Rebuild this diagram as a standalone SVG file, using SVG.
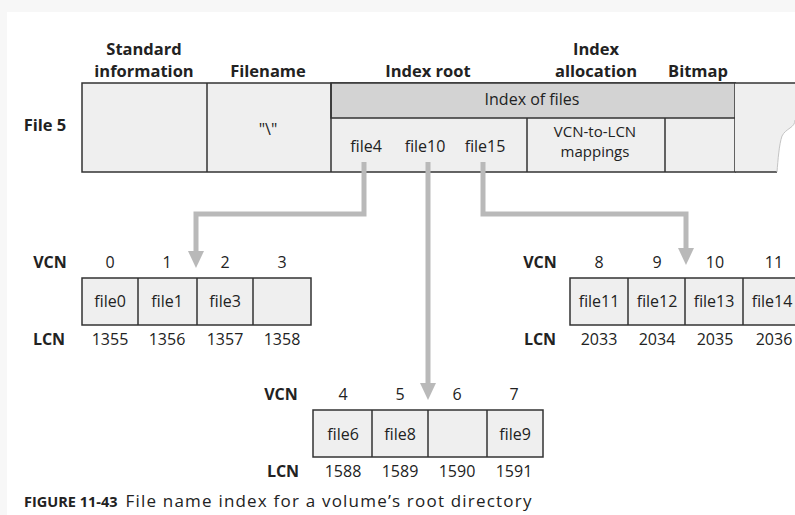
<svg xmlns="http://www.w3.org/2000/svg" width="795" height="515" viewBox="0 0 795 515">
<style>
text{font-family:"Open Sans","Liberation Sans",sans-serif;fill:#222;}
.h{font-weight:bold;font-size:16.5px;text-anchor:middle;}
.b{font-weight:bold;font-size:16px;text-anchor:middle;}
.t{font-size:16px;text-anchor:middle;}
.s{font-size:15px;text-anchor:middle;}
.cell{fill:#efefef;stroke:#333;stroke-width:1.5;}
.bar{fill:#d3d3d3;stroke:#333;stroke-width:1.5;}
.ln{stroke:#333;stroke-width:1.5;fill:none;}
.con{stroke:#b9b9b9;stroke-width:5;fill:none;}
.ah{fill:#b9b9b9;}
</style>
<rect x="0" y="0" width="795" height="515" fill="#ffffff"/>
<rect x="0" y="0" width="795" height="12" fill="#f7f7f7"/>
<rect x="0" y="0" width="7" height="515" fill="#f7f7f7"/>

<g id="headers">
<text class="h" x="144" y="55">Standard</text>
<text class="h" x="144" y="77">information</text>
<text class="h" x="268" y="77">Filename</text>
<text class="h" x="428" y="77">Index root</text>
<text class="h" x="596" y="55">Index</text>
<text class="h" x="596" y="77">allocation</text>
<text class="h" x="698" y="77">Bitmap</text>
<text class="h" x="45" y="131">File 5</text>
</g>

<g id="file5-record">
<rect class="cell" x="82" y="83" width="653" height="89"/>
<rect class="bar" x="331" y="83" width="404" height="35"/>
<line class="ln" x1="207" y1="83" x2="207" y2="172"/>
<line class="ln" x1="331" y1="83" x2="331" y2="172"/>
<line class="ln" x1="527" y1="118" x2="527" y2="172"/>
<line class="ln" x1="665" y1="118" x2="665" y2="172"/>
<path d="M735,83 H795 V120 C795,128 786,128 782,136 C779,145 778,160 777,172 H735 Z" fill="#efefef" stroke="none"/>
<path d="M735,83 H795" class="ln"/>
<path d="M777,172 H735" class="ln"/>
<path d="M795,120 C795,128 786,128 782,136 C779,145 778,160 777,172" fill="none" stroke="#c4c4c4" stroke-width="1"/>
<text class="t" x="532" y="105">Index of files</text>
<text class="t" x="268" y="135">"\"</text>
<text class="t" x="366" y="152">file4</text>
<text class="t" x="425" y="152">file10</text>
<text class="t" x="485" y="152">file15</text>
<text class="s" x="595" y="137">VCN-to-LCN</text>
<text class="s" x="595" y="157">mappings</text>
</g>

<g id="connectors">
<path class="con" d="M364,162 V214 H196 V252"/>
<polygon class="ah" points="188,251 204,251 196,268"/>
<path class="con" d="M428,162 V384"/>
<polygon class="ah" points="420,383 436,383 428,400"/>
<path class="con" d="M483,162 V214 H686 V249"/>
<polygon class="ah" points="678,248 694,248 686,265"/>
</g>

<g id="run-0-3">
<text class="b" x="50" y="268">VCN</text>
<text class="t" x="110" y="268">0</text>
<text class="t" x="167" y="268">1</text>
<text class="t" x="225" y="268">2</text>
<text class="t" x="282" y="268">3</text>
<rect class="cell" x="82" y="278" width="229" height="47"/>
<line class="ln" x1="138" y1="278" x2="138" y2="325"/>
<line class="ln" x1="197" y1="278" x2="197" y2="325"/>
<line class="ln" x1="253" y1="278" x2="253" y2="325"/>
<text class="t" x="110" y="307">file0</text>
<text class="t" x="167" y="307">file1</text>
<text class="t" x="225" y="307">file3</text>
<text class="b" x="49" y="345">LCN</text>
<text class="t" x="110" y="345">1355</text>
<text class="t" x="167" y="345">1356</text>
<text class="t" x="225" y="345">1357</text>
<text class="t" x="282" y="345">1358</text>
</g>

<g id="run-8-11">
<text class="b" x="540" y="268">VCN</text>
<text class="t" x="599" y="268">8</text>
<text class="t" x="657" y="268">9</text>
<text class="t" x="715" y="268">10</text>
<text class="t" x="774" y="268">11</text>
<rect class="cell" x="570" y="278" width="230" height="47"/>
<line class="ln" x1="628" y1="278" x2="628" y2="325"/>
<line class="ln" x1="685" y1="278" x2="685" y2="325"/>
<line class="ln" x1="743" y1="278" x2="743" y2="325"/>
<text class="t" x="599" y="307">file11</text>
<text class="t" x="657" y="307">file12</text>
<text class="t" x="714" y="307">file13</text>
<text class="t" x="772" y="307">file14</text>
<text class="b" x="540" y="345">LCN</text>
<text class="t" x="599" y="345">2033</text>
<text class="t" x="657" y="345">2034</text>
<text class="t" x="715" y="345">2035</text>
<text class="t" x="774" y="345">2036</text>
</g>

<g id="run-4-7">
<text class="b" x="281" y="400">VCN</text>
<text class="t" x="343" y="400">4</text>
<text class="t" x="400" y="400">5</text>
<text class="t" x="457" y="400">6</text>
<text class="t" x="514" y="400">7</text>
<rect class="cell" x="313" y="410" width="230" height="47"/>
<line class="ln" x1="372" y1="410" x2="372" y2="457"/>
<line class="ln" x1="428" y1="410" x2="428" y2="457"/>
<line class="ln" x1="487" y1="410" x2="487" y2="457"/>
<text class="t" x="343" y="440">file6</text>
<text class="t" x="400" y="440">file8</text>
<text class="t" x="515" y="440">file9</text>
<text class="b" x="283" y="477">LCN</text>
<text class="t" x="343" y="477">1588</text>
<text class="t" x="400" y="477">1589</text>
<text class="t" x="457" y="477">1590</text>
<text class="t" x="514" y="477">1591</text>
</g>

<g id="caption">
<text x="24" y="507"><tspan font-weight="bold" style="font-size:14.5px;">FIGURE 11-43</tspan><tspan dx="8" style="font-size:17px;letter-spacing:1.2px;">File name index for a volume’s root directory</tspan></text>
</g>
</svg>
